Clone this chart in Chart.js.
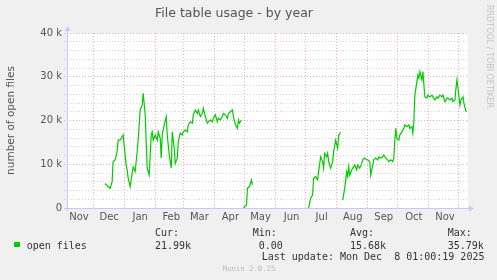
<!DOCTYPE html>
<html lang="en">
<head>
<meta charset="UTF-8">
<title>File table usage - by year</title>
<script src="https://cdn.jsdelivr.net/npm/chart.js@4.4.0"></script>
<style>
  body { margin: 0; background: #f0f0f0; }
  #wrap { position: relative; width: 497px; height: 280px; overflow: hidden; }
  #chart { position: absolute; left: 0; top: 0; }
  .t { position: absolute; font-family: "DejaVu Sans Mono", monospace; font-size: 10px; line-height: 12px; color: #333; white-space: pre; }
  .swatch { position: absolute; left: 14px; top: 242px; width: 6px; height: 5px; background: #00cc00; }
  .credit { font-size: 7.3px; line-height: 10px; color: #bbb; }
  .rrd { position: absolute; left: 485px; top: 5px; writing-mode: vertical-rl; font-family: "DejaVu Sans", sans-serif; font-size: 8px; line-height: 8px; color: #c4c4c4; white-space: pre; }
</style>
</head>
<body>
<div id="wrap">
  <canvas id="chart" width="497" height="280"></canvas>
  <div class="swatch"></div>
  <div id="legend"></div>
  <div class="t" style="left:261.7px; top:251.3px">Last update: Mon Dec  8 01:00:19 2025</div>
  <div class="t credit" style="left:222.7px; top:264px">Munin 2.0.25</div>
  <div class="rrd">RRDTOOL / TOBI OETIKER</div>
</div>

<script>
// x = days since the left edge of the plot (5 Nov 2024), one pixel per day
const days = [
  38, 43, 45, 46, 48, 50, 51, 53, 55, 56, 57, 59, 60, 61, 63, 65, 66, 68, 70, 71,
  73, 75, 76, 78, 79, 80, 82, 84, 85, 86, 88, 90, 91, 93, 94, 95, 97, 99, 100, 102,
  104, 105, 107, 108, 110, 111, 113, 115, 116, 118, 120, 121, 123, 125, 126, 128, 130, 131, 133, 135,
  136, 138, 140, 141, 143, 145, 146, 148, 150, 151, 153, 155, 156, 158, 160, 161, 163, 165, 166, 168,
  170, 171, 172, 174, 175,
  176, 179, 180, 182, 184, 185, 186,
  241, 243, 245, 246, 248, 250, 251, 253, 255, 256, 257, 259, 260, 261, 263, 265, 266, 268, 270, 271,
  273, 274,
  275, 277, 279, 280, 281, 282, 284, 285, 287, 289, 290, 292, 294, 295, 297, 299, 300, 302, 303, 305,
  306, 308, 310, 311, 313, 315, 316, 318, 320, 321, 323, 325, 326, 327, 328, 329, 331, 332, 334, 336,
  337, 339, 341, 342, 344, 345, 346, 347, 349, 350, 351, 352, 354, 355, 356, 357, 359, 360, 362, 364,
  365, 367, 369, 370, 372, 374, 375, 377, 379, 380, 382, 384, 385, 387, 388, 389, 391, 392, 393, 395,
  396, 398
];
const openFiles = [
  5600, 4500, 6000, 10600, 11000, 12900, 15500, 15500, 16300, 16700, 14400, 9800, 8700, 6800, 4900, 7900, 9400, 8300, 12900, 15500,
  22400, 23500, 26200, 21300, 15200, 9100, 7500, 16700, 17400, 15500, 16700, 15500, 17400, 15900, 11400, 16700, 19000, 20900, 16700, 12100,
  9100, 17400, 13600, 10200, 11400, 15200, 17100, 16700, 17400, 17800, 17400, 19000, 19700, 19400, 21300, 22400, 21600, 22400, 20900, 21600,
  22800, 20900, 19400, 19700, 20100, 19700, 20500, 21300, 19700, 20500, 20100, 20900, 21600, 21300, 20500, 21600, 22000, 22400, 20900, 19000,
  18200, 20100, 19400, 20100, null,
  0, 700, 4500, 4900, 6400, 5300, null,
  0, 2200, 3000, 6800, 7200, 6400, 8300, 11700, 10600, 9100, 12500, 11700, 12500, 10600, 9100, 10600, 12900, 15500, 13600, 16700,
  17300, null,
  1800, 4500, 8300, 7200, 9400, 7500, 8700, 9100, 9800, 8700, 9800, 9100, 10200, 11000, 11400, 11000, 11000, 10600, 7500, 9800,
  11000, 11400, 11000, 11700, 11400, 11700, 12100, 11400, 11000, 10600, 11000, 10600, 11400, 15500, 18200, 15900, 15500, 16700, 17400, 18200,
  19000, 18600, 19000, 18200, 18600, 17100, 19700, 25800, 28900, 30400, 29700, 31200, 29300, 31200, 28100, 25400, 25100, 25800, 25400, 25800,
  25400, 24700, 25400, 25100, 25800, 25400, 25800, 24300, 25100, 25100, 24700, 25100, 24300, 24700, 27400, 29300, 25400, 23500, 24700, 25400,
  23900, 22000
];

// month boundaries (same day scale) and their names
const monthStarts = [-4, 26, 57, 88, 116, 147, 177, 208, 238, 269, 300, 330, 361, 391];
const monthNames = ['Nov', 'Dec', 'Jan', 'Feb', 'Mar', 'Apr', 'May', 'Jun', 'Jul', 'Aug', 'Sep', 'Oct', 'Nov', 'Dec'];

const statNames = ['Cur:', 'Min:', 'Avg:', 'Max:'];
const statValues = ['21.99k', '0.00', '15.68k', '35.79k'];

// legend / stats text
const statNameX = [155, 252.7, 350, 447.7];
const statValueX = [155, 258.7, 350, 447.7];
let html = '<div class="t" style="left:26.7px; top:239.7px">open files</div>';
statNames.forEach((n, i) => {
  html += `<div class="t" style="left:${statNameX[i]}px; top:227.3px">${n}</div>`;
  html += `<div class="t" style="left:${statValueX[i]}px; top:239.7px">${statValues[i]}</div>`;
});
document.getElementById('legend').innerHTML = html;

const X_MIN = 0, X_MAX = 400;
const gridStarts = monthStarts.filter(d => d >= X_MIN && d <= X_MAX);
const labelAt = {};
monthStarts.forEach((d, i) => {
  const mid = d + 16;
  if (mid >= X_MIN && mid <= X_MAX) labelAt[mid] = monthNames[i];
});
const xTicks = gridStarts.concat(Object.keys(labelAt).map(Number)).sort((a, b) => a - b);
const yTicks = [];
for (let v = 0; v <= 40000; v += 2000) yTicks.push(v);

const RED = 'rgba(240, 120, 120, 0.6)';
const GRAY = 'rgba(175, 175, 175, 0.55)';
const tickFont = { family: 'DejaVu Sans', size: 10 };

const points = days.map((d, i) => ({ x: d, y: openFiles[i] }));

const muninFrame = {
  id: 'muninFrame',
  beforeDraw(chart) {
    const { ctx, chartArea: a } = chart;
    ctx.save();
    ctx.fillStyle = '#f0f0f0';
    ctx.fillRect(0, 0, chart.width, chart.height);
    ctx.fillStyle = '#ffffff';
    ctx.fillRect(a.left, a.top, a.right - a.left, a.bottom - a.top);
    ctx.restore();
  },
  afterDatasetsDraw(chart) {
    const { ctx, chartArea: a } = chart;
    const x = Math.round(a.left) + 0.5;
    const y = Math.round(a.bottom) + 0.5;
    ctx.save();
    ctx.strokeStyle = ctx.fillStyle = '#c8c8ff';
    ctx.lineWidth = 1;
    ctx.beginPath();
    ctx.moveTo(x, a.bottom + 3);
    ctx.lineTo(x, a.top - 3);
    ctx.moveTo(a.left - 3, y);
    ctx.lineTo(a.right + 1, y);
    ctx.stroke();
    // arrow heads
    ctx.beginPath();
    ctx.moveTo(x, a.top - 7);
    ctx.lineTo(x - 3, a.top - 2);
    ctx.lineTo(x + 3, a.top - 2);
    ctx.closePath();
    ctx.fill();
    ctx.beginPath();
    ctx.moveTo(a.right + 6, y);
    ctx.lineTo(a.right + 1, y - 3);
    ctx.lineTo(a.right + 1, y + 3);
    ctx.closePath();
    ctx.fill();
    ctx.restore();
  }
};

new Chart(document.getElementById('chart'), {
  type: 'line',
  data: {
    datasets: [{
      label: 'open files',
      data: points,
      borderColor: '#00cc00',
      borderWidth: 1.2,
      pointRadius: 0,
      tension: 0,
      spanGaps: false,
      fill: false
    }]
  },
  options: {
    responsive: false,
    animation: false,
    layout: { padding: { left: 0, right: 29, top: 0, bottom: 52 } },
    plugins: {
      legend: { display: false },
      tooltip: { enabled: false },
      title: {
        display: true,
        text: 'File table usage - by year',
        color: '#555',
        font: { family: 'DejaVu Sans', size: 12.5, weight: 'normal' },
        padding: { top: 6, bottom: 12 }
      }
    },
    scales: {
      x: {
        type: 'linear',
        min: X_MIN,
        max: X_MAX,
        afterBuildTicks: s => { s.ticks = xTicks.map(v => ({ value: v })); },
        afterFit: s => { s.height = 20; },
        grid: {
          color: c => (c.tick && labelAt[c.tick.value] === undefined) ? RED : 'rgba(0,0,0,0)',
          drawTicks: false
        },
        border: { display: false, dash: [1, 2] },
        ticks: {
          autoSkip: false,
          maxRotation: 0,
          padding: 3,
          color: '#555',
          font: tickFont,
          callback: v => labelAt[v] || ''
        }
      },
      y: {
        min: 0,
        max: 40000,
        afterBuildTicks: s => { s.ticks = yTicks.map(v => ({ value: v })); },
        afterFit: s => { s.width = 67; },
        grid: {
          color: c => (c.tick && c.tick.value % 10000 === 0) ? RED : GRAY,
          tickColor: c => (c.tick && c.tick.value % 10000 === 0) ? RED : GRAY,
          tickLength: 3,
          tickBorderDash: [1, 2]
        },
        border: { display: false, dash: [1, 2] },
        ticks: {
          autoSkip: false,
          padding: 2,
          color: '#555',
          font: tickFont,
          callback: v => v % 10000 !== 0 ? '' : (v === 0 ? '0' : (v / 1000) + ' k')
        },
        title: {
          display: true,
          text: 'number of open files',
          color: '#555',
          font: { family: 'DejaVu Sans', size: 10.5 },
          padding: { top: 5, bottom: 0 }
        }
      }
    }
  },
  plugins: [muninFrame]
});
</script>
</body>
</html>
